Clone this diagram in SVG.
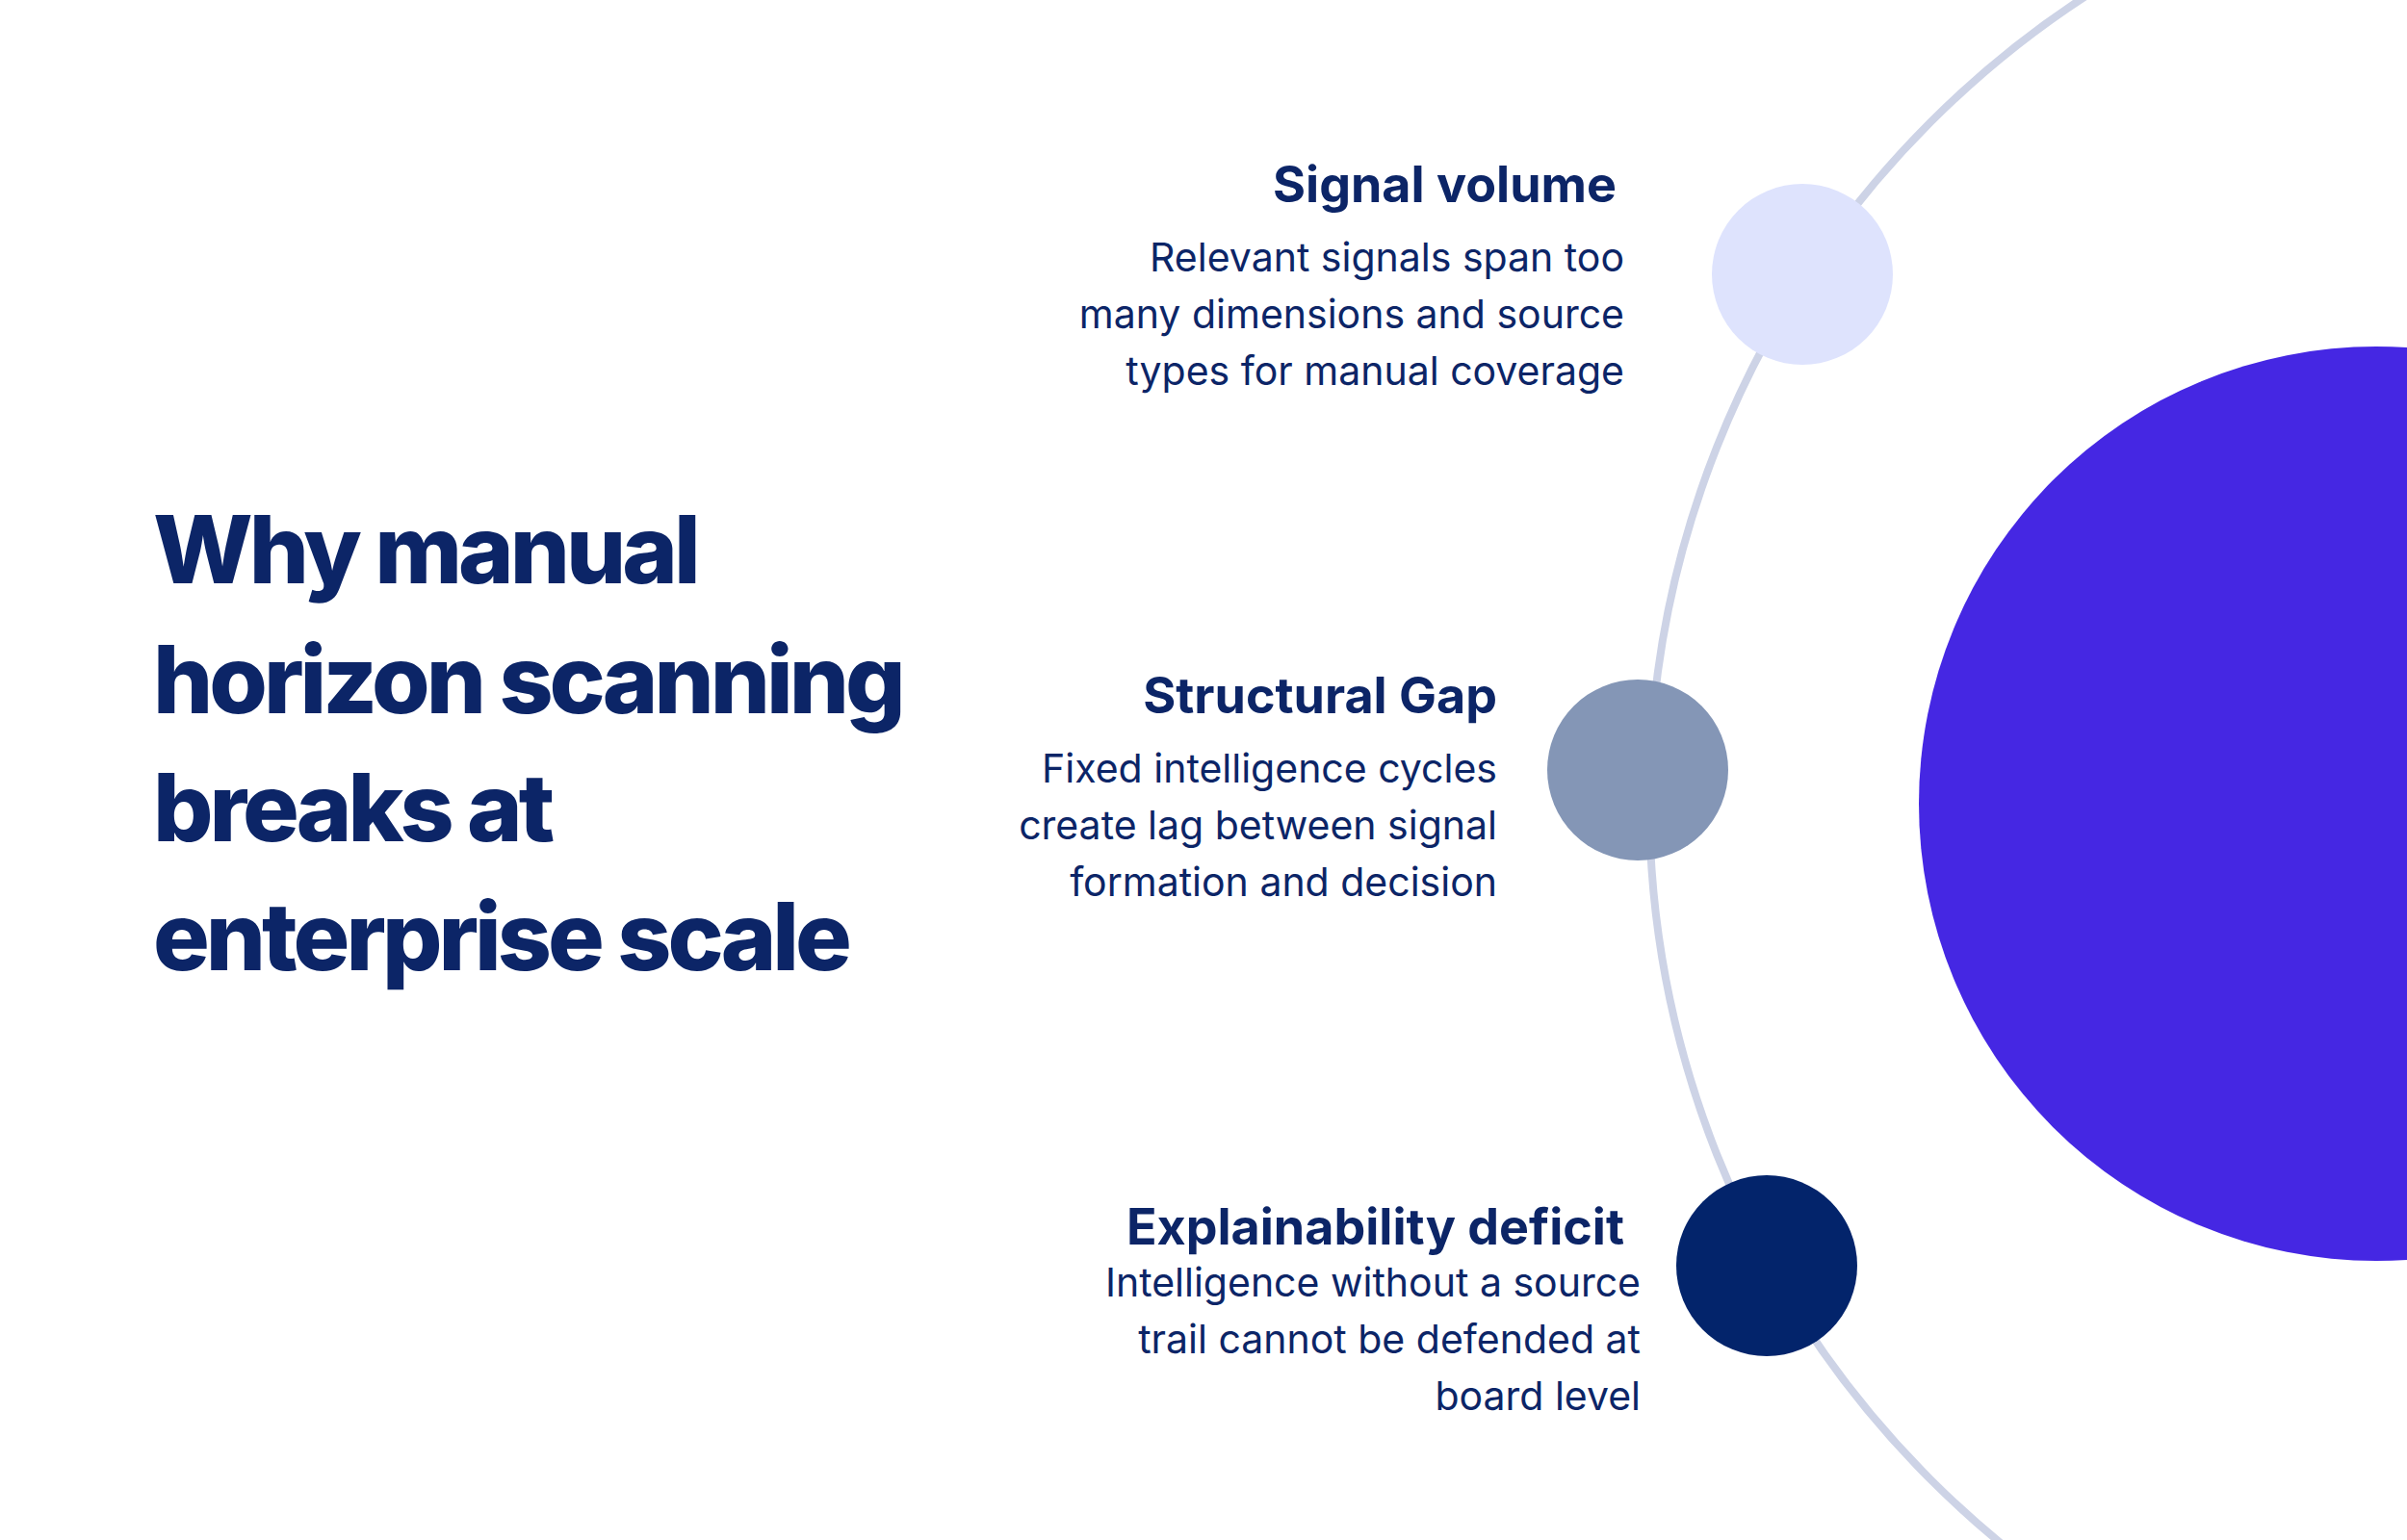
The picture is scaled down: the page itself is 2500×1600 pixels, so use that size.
<svg xmlns="http://www.w3.org/2000/svg" width="2500" height="1600" viewBox="0 0 2500 1600">
<style>
.t{font-family:Inter,"Liberation Sans",sans-serif;font-weight:800;font-size:98px;fill:#0C2567;letter-spacing:-4px}
.h{font-family:Inter,"Liberation Sans",sans-serif;font-weight:700;font-size:52px;fill:#0C2567;text-anchor:end}
.b{font-family:Inter,"Liberation Sans",sans-serif;font-weight:400;font-size:41px;fill:#0C2567;text-anchor:end}
</style>
<rect width="2500" height="1600" fill="#FFFFFF"/>
<g id="connectors">
<circle cx="2710" cy="832" r="997" fill="none" stroke="#CDD3E6" stroke-width="8"/>
</g>
<g id="core"><circle cx="2468" cy="835" r="475" fill="#4527E3"/></g>
<g id="title">
<text class="t" x="159" y="606">Why manual</text>
<text class="t" x="159" y="741">horizon scanning</text>
<text class="t" x="159" y="874">breaks at</text>
<text class="t" x="159" y="1008">enterprise scale</text>
</g>
<g id="signal-volume">
<circle cx="1872" cy="285" r="94" fill="#DEE3FD"/>
<text class="h" x="1679" y="210">Signal volume</text>
<text class="b" x="1687" y="282">Relevant signals span too</text>
<text class="b" x="1687" y="341">many dimensions and source</text>
<text class="b" x="1687" y="400">types for manual coverage</text>
</g>
<g id="structural-gap">
<circle cx="1701" cy="800" r="94" fill="#8496B6"/>
<text class="h" x="1555" y="741">Structural Gap</text>
<text class="b" x="1555" y="813">Fixed intelligence cycles</text>
<text class="b" x="1555" y="872">create lag between signal</text>
<text class="b" x="1555" y="931">formation and decision</text>
</g>
<g id="explainability-deficit">
<circle cx="1835" cy="1315" r="94" fill="#03246B"/>
<text class="h" x="1687" y="1293">Explainability deficit</text>
<text class="b" x="1704" y="1347">Intelligence without a source</text>
<text class="b" x="1704" y="1406">trail cannot be defended at</text>
<text class="b" x="1704" y="1465">board level</text>
</g>
</svg>
